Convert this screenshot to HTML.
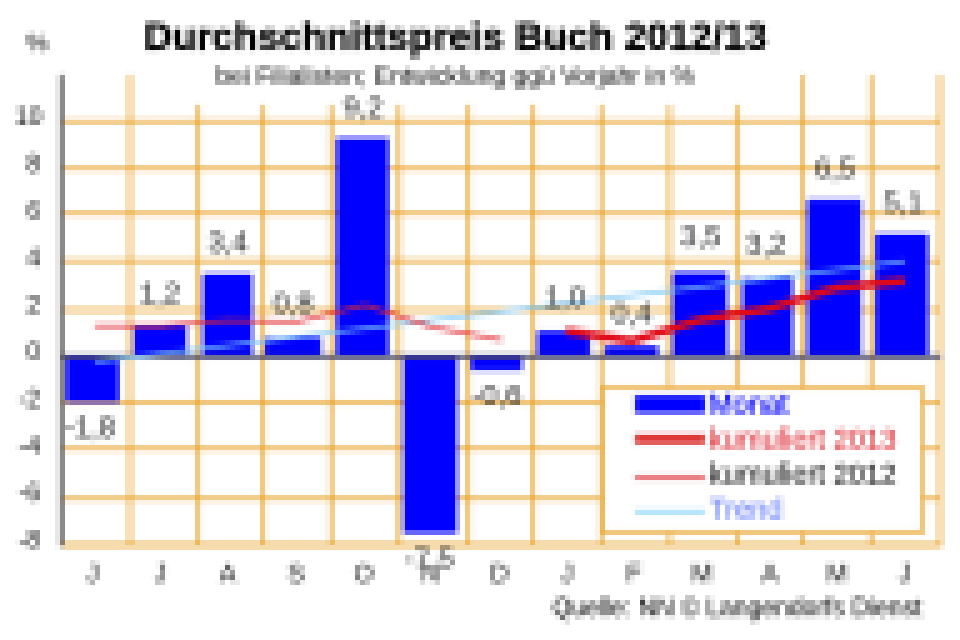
<!DOCTYPE html>
<html lang="de"><head><meta charset="utf-8"><title>Durchschnittspreis Buch 2012/13</title>
<style>html,body{margin:0;padding:0;background:#fff;}body{width:960px;height:640px;overflow:hidden;}svg{display:block;font-family:"Liberation Sans",sans-serif;}</style></head><body>
<svg width="960" height="640" viewBox="0 0 960 640">
<defs><filter id="px" x="0" y="0" width="960" height="640" filterUnits="userSpaceOnUse" color-interpolation-filters="sRGB"><feGaussianBlur in="SourceGraphic" stdDeviation="1.0"/><feConvolveMatrix order="5" kernelMatrix="1 1 1 1 1 1 1 1 1 1 1 1 1 1 1 1 1 1 1 1 1 1 1 1 1" divisor="25" edgeMode="duplicate" preserveAlpha="false" result="b"/><feFlood x="2" y="2" width="1" height="1" flood-color="#000"/><feComposite width="5" height="5"/><feTile result="t"/><feComposite in="b" in2="t" operator="in"/><feMorphology operator="dilate" radius="2"/></filter><filter id="pt" x="0" y="0" width="960" height="640" filterUnits="userSpaceOnUse" color-interpolation-filters="sRGB"><feGaussianBlur in="SourceGraphic" stdDeviation="0.5"/><feConvolveMatrix order="5" kernelMatrix="1 1 1 1 1 1 1 1 1 1 1 1 1 1 1 1 1 1 1 1 1 1 1 1 1" divisor="25" edgeMode="duplicate" preserveAlpha="false" result="b"/><feFlood x="2" y="2" width="1" height="1" flood-color="#000"/><feComposite width="5" height="5"/><feTile result="t"/><feComposite in="b" in2="t" operator="in"/><feMorphology operator="dilate" radius="2"/></filter></defs>
<rect width="960" height="640" fill="#fff"/>
<g filter="url(#px)">
<rect width="960" height="640" fill="#fff"/>
<g fill="#e8a126">
<rect x="64" y="119.6" width="877" height="3.2"/>
<rect x="64" y="167.0" width="877" height="3.2"/>
<rect x="64" y="212.0" width="877" height="3.2"/>
<rect x="64" y="259.2" width="877" height="3.2"/>
<rect x="64" y="308.4" width="877" height="3.2"/>
<rect x="64" y="400.9" width="877" height="3.2"/>
<rect x="64" y="447.0" width="877" height="3.2"/>
<rect x="64" y="497.0" width="877" height="3.2"/>
<rect x="62" y="543.1" width="880" height="3.8000000000000003"/>
<rect x="128.4" y="75" width="3.2" height="471"/>
<rect x="196.4" y="105" width="3.2" height="441"/>
<rect x="261.4" y="105" width="3.2" height="441"/>
<rect x="329.7" y="105" width="3.2" height="441"/>
<rect x="397.4" y="105" width="3.2" height="441"/>
<rect x="466.6" y="105" width="3.2" height="441"/>
<rect x="531.4" y="105" width="3.2" height="441"/>
<rect x="599.7" y="105" width="3.2" height="441"/>
<rect x="668.0" y="105" width="3.2" height="441"/>
<rect x="735.9" y="105" width="3.2" height="441"/>
<rect x="801.0" y="75" width="3.2" height="471"/>
<rect x="869.7" y="75" width="3.2" height="471"/>
<rect x="938.4" y="75" width="3.2" height="471"/>
</g>
<rect x="59.7" y="75" width="3.7" height="471" fill="#404040"/>
<g fill="#0000ff">
<rect x="66" y="357" width="53" height="45.0"/>
<rect x="134" y="326" width="52.5" height="29.5"/>
<rect x="203" y="274" width="49" height="81.5"/>
<rect x="265" y="337.5" width="56" height="18.0"/>
<rect x="336.5" y="138" width="52.0" height="217.5"/>
<rect x="403.5" y="357" width="53.5" height="176.0"/>
<rect x="471" y="357" width="51" height="13.3"/>
<rect x="537.5" y="331" width="52.5" height="24.5"/>
<rect x="605" y="346" width="53" height="9.5"/>
<rect x="673" y="272.5" width="54" height="83.0"/>
<rect x="742.5" y="278" width="50.0" height="77.5"/>
<rect x="807.5" y="199.5" width="53.5" height="156.0"/>
<rect x="875.5" y="234" width="52.5" height="121.5"/>
</g>
<rect x="62" y="354.6" width="879" height="4" fill="#3c3c5c"/>
<line x1="95" y1="362" x2="905" y2="261.5" stroke="#7cc8f8" stroke-width="3.2"/>
<polyline points="95,326 161,326 228,320.5 296,322 365,305 432,327 502,340" fill="none" stroke="#e02830" stroke-width="3" stroke-linejoin="round"/>
<polyline points="566,331 632,341 700,320 768,309 836,288 905,281" fill="none" stroke="#e00818" stroke-width="8" stroke-linejoin="round" stroke-linecap="butt"/>
<rect x="602.5" y="387.5" width="320" height="145" fill="#fff" stroke="#e8a126" stroke-width="3.2"/>
<rect x="635" y="395.5" width="70" height="17.5" fill="#0000ff"/>
<rect x="635" y="434.5" width="70" height="9.5" fill="#dc3030"/>
<rect x="635" y="475.5" width="70" height="4" fill="#e04850"/>
<rect x="635" y="509.5" width="70" height="4.5" fill="#a0dcf8"/>
</g>
<g filter="url(#pt)">
<g font-size="28.6" stroke-width="0.4">
<text x="709" y="414" fill="#0000ff" stroke="#0000ff">Monat</text>
<text x="709" y="449" fill="#dc2830" stroke="#dc2830" stroke-width="0.15">kumuliert 2013</text>
<text x="709" y="484" fill="#111" stroke="#111" stroke-width="0.1">kumuliert 2012</text>
<text x="709" y="519" fill="#7088ff" stroke="#7088ff">Trend</text>
</g>
<text x="455.5" y="50" font-size="39.5" stroke="#000" stroke-width="0.5" font-weight="bold" text-anchor="middle" fill="#000">Durchschnittspreis Buch 2012/13</text>
<text x="455.5" y="84" font-size="24.8" text-anchor="middle" fill="#000">bei Filialisten; Entwicklung ggü Vorjahr in %</text>
<text x="922" y="616" font-size="24.9" text-anchor="end" fill="#000">Quelle: NN © Langendorfs Dienst</text>
<text x="37" y="51" font-size="24" text-anchor="middle" fill="#000">%</text>
<g font-size="25" text-anchor="end" fill="#111">
<text x="42.5" y="124.7">10</text>
<text x="40.5" y="171.8">8</text>
<text x="40.5" y="218.8">6</text>
<text x="40.5" y="265.9">4</text>
<text x="40.5" y="312.9">2</text>
<text x="40.5" y="360.0">0</text>
<text x="40.5" y="407.1">-2</text>
<text x="40.5" y="454.1">-4</text>
<text x="40.5" y="501.2">-6</text>
<text x="40.5" y="548.2">-8</text>
</g>
<g font-size="26" text-anchor="middle" fill="#222">
<text x="92.5" y="582">J</text>
<text x="160.5" y="582">J</text>
<text x="228" y="582">A</text>
<text x="296" y="582">S</text>
<text x="363.5" y="582">O</text>
<text x="430.5" y="582">N</text>
<text x="499.5" y="582">D</text>
<text x="567" y="582">J</text>
<text x="634" y="582">F</text>
<text x="702" y="582">M</text>
<text x="770" y="582">A</text>
<text x="837" y="582">M</text>
<text x="905" y="582">J</text>
</g>
<g font-size="29" text-anchor="middle" fill="#282828">
<text x="90" y="437">-1,8</text>
<text x="160" y="303">1,2</text>
<text x="228" y="252">3,4</text>
<text x="293" y="313">0,8</text>
<text x="363" y="117">9,2</text>
<text x="429" y="568">-7,5</text>
<text x="497" y="405">-0,6</text>
<text x="565" y="307">1,0</text>
<text x="632" y="323">0,4</text>
<text x="701" y="246">3,5</text>
<text x="766" y="254">3,2</text>
<text x="835" y="178">6,5</text>
<text x="903" y="212">5,1</text>
</g>
</g>
</svg></body></html>
